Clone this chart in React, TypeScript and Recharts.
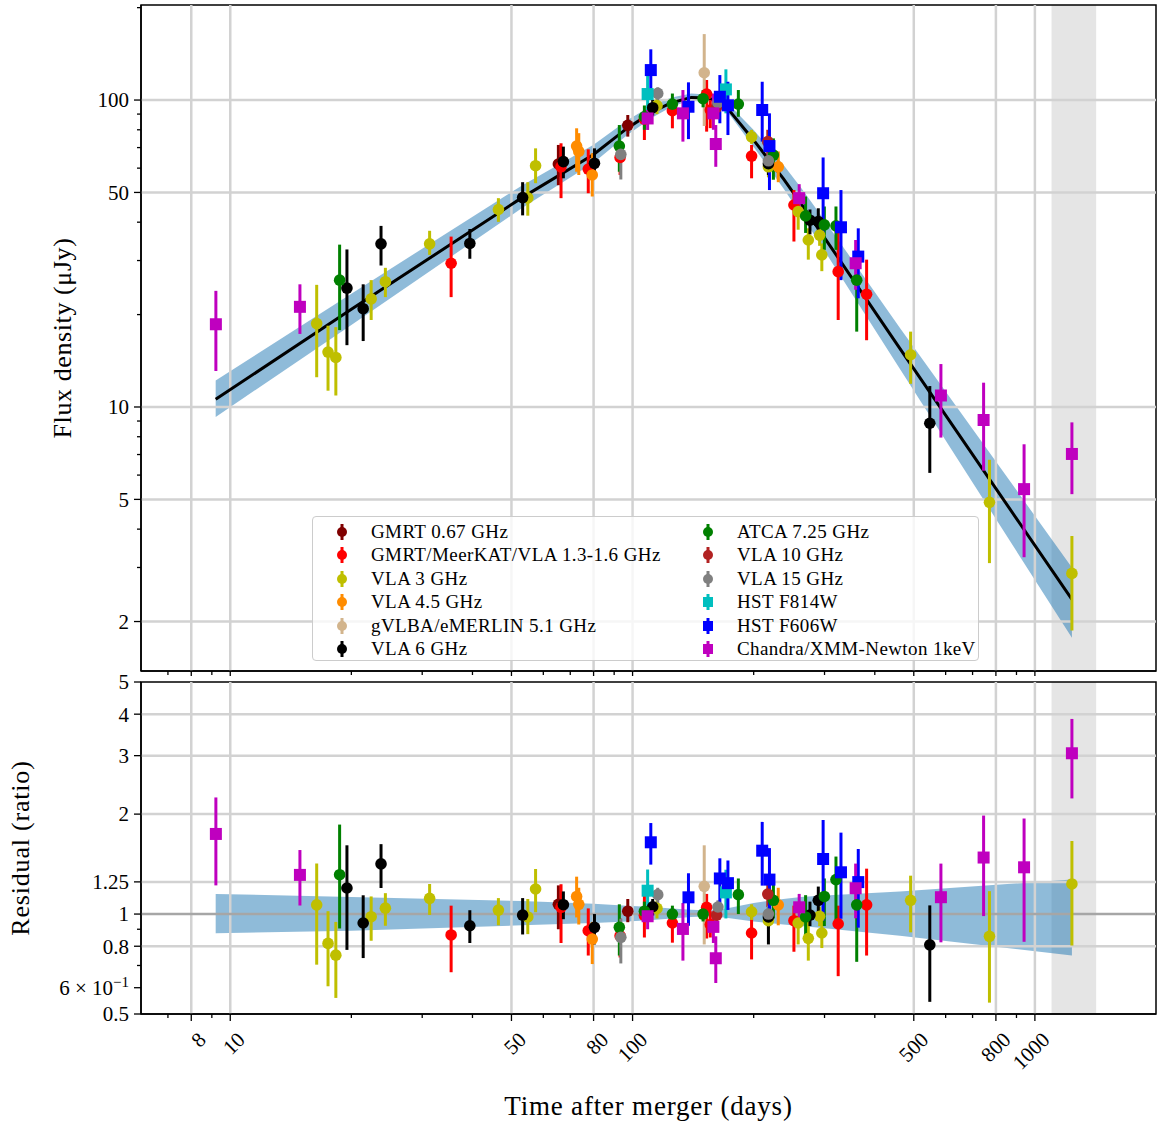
import React from 'react';
import {
  ComposedChart,
  Scatter,
  ErrorBar,
  Line,
  Area,
  XAxis,
  YAxis,
  ReferenceLine,
  ReferenceArea,
} from 'recharts';

// each row: [days, flux, flux low, flux high, ratio, ratio low, ratio high]
type Row = number[];

const gmrt067: Row[] = [
  [65.4, 61.9, 52.8, 71.4, 1.07, 0.9, 1.22],
  [97.3, 82.7, 76.0, 89.4, 1.02, 0.945, 1.11],
];
const lband: Row[] = [
  [35.4, 29.4, 22.8, 35.9, 0.865, 0.668, 1.06],
  [66.4, 60.6, 47.9, 72.3, 1.048, 0.818, 1.23],
  [77.6, 59.6, 49.7, 69.1, 0.891, 0.75, 1.04],
  [93.1, 65, 57, 72, 0.86, 0.74, 0.97],
  [107, 86.7, 74.1, 92.8, 0.99, 0.85, 1.14],
  [125.6, 92.3, 80.9, 100, 0.94, 0.82, 1.025],
  [152.8, 104.6, 78.9, 116.2, 1.048, 0.844, 1.15],
  [156, 92.8, 81, 100, 0.93, 0.85, 1.02],
  [197.6, 65.7, 55.6, 71.4, 0.877, 0.73, 0.99],
  [251.8, 45.5, 34.6, 50.9, 0.955, 0.77, 1.06],
  [324.4, 27.6, 19.2, 38.7, 0.935, 0.65, 1.06],
  [381.7, 23.3, 16.5, 30.2, 1.066, 0.75, 1.37],
];
const vla3: Row[] = [
  [16.4, 18.7, 12.5, 25.0, 1.066, 0.704, 1.42],
  [17.5, 15.1, 11.3, 18.4, 0.816, 0.606, 1.02],
  [18.3, 14.5, 10.9, 18.2, 0.752, 0.559, 0.947],
  [22.4, 22.5, 19.2, 25.9, 0.982, 0.831, 1.13],
  [24.3, 25.6, 22.8, 28.4, 1.042, 0.922, 1.156],
  [31.3, 34.0, 31.3, 37.5, 1.115, 0.994, 1.232],
  [46.4, 44.0, 40.1, 47.9, 1.028, 0.925, 1.117],
  [54.9, 48, 42, 54, 0.98, 0.87, 1.11],
  [57.4, 61.1, 53.6, 69.6, 1.19, 1.013, 1.367],
  [115, 96, 90, 103, 1.04, 0.97, 1.1],
  [197.6, 75.9, 72, 80, 1.016, 0.96, 1.07],
  [217.6, 60.6, 56, 66, 0.955, 0.9, 1.01],
  [258, 43.3, 37.8, 47.3, 0.94, 0.81, 0.99],
  [273.4, 35.0, 30.2, 38.2, 0.845, 0.724, 0.947],
  [291.7, 36.3, 33.5, 39.5, 0.985, 0.92, 1.05],
  [295.4, 31.3, 27.7, 34.1, 0.877, 0.79, 0.97],
  [491, 14.8, 11.9, 17.6, 1.1, 0.881, 1.305],
  [771, 4.89, 3.1, 6.73, 0.857, 0.541, 1.172],
  [1236, 2.87, 1.87, 3.8, 1.232, 0.804, 1.66],
];
const vla45: Row[] = [
  [72.6, 70.8, 58.4, 80.9, 1.13, 0.977, 1.296],
  [73.5, 68, 57, 78, 1.07, 0.93, 1.2],
  [79.4, 57.0, 48.5, 67.1, 0.841, 0.707, 0.947],
  [230.2, 60.6, 54, 68, 1.066, 0.925, 1.2],
];
const vlbi51: Row[] = [[150.7, 122.7, 82.3, 164, 1.212, 0.81, 1.611]];
const vla6: Row[] = [
  [19.5, 24.4, 15.9, 32.6, 1.198, 0.78, 1.611],
  [21.4, 20.9, 16.4, 25.1, 0.94, 0.737, 1.139],
  [23.7, 34.0, 28.9, 38.9, 1.416, 1.198, 1.624],
  [39.4, 34.1, 30.4, 38.0, 0.922, 0.818, 1.027],
  [53.3, 48.1, 42.1, 54.0, 0.993, 0.868, 1.117],
  [67.3, 63.0, 55.6, 70.5, 1.067, 0.965, 1.17],
  [80.4, 62.2, 56.3, 69.6, 0.912, 0.81, 1.0],
  [112.2, 94.4, 89, 100, 1.052, 0.99, 1.11],
  [217.6, 62, 57, 67, 0.98, 0.81, 1.05],
  [276, 40.6, 36.5, 44, 0.993, 0.92, 1.09],
  [289.5, 40.2, 36.9, 44.4, 1.1, 1.0, 1.21],
  [548, 8.85, 6.1, 11.7, 0.808, 0.544, 1.062],
];
const atca: Row[] = [
  [18.7, 25.9, 17.8, 33.8, 1.314, 0.905, 1.86],
  [92.7, 70.8, 58.4, 82.9, 0.912, 0.75, 1.07],
  [107, 88.2, 80, 96, 1.02, 0.95, 1.09],
  [125.6, 97.0, 89.4, 105, 1.0, 0.95, 1.06],
  [149.7, 101, 94.7, 107.8, 1.0, 0.95, 1.05],
  [183.2, 97.0, 88.2, 107.8, 1.144, 1.0, 1.28],
  [223.9, 66.2, 55, 75, 1.1, 0.97, 1.24],
  [269.2, 41.9, 36.9, 48.5, 0.98, 0.85, 1.14],
  [299.7, 39.2, 32.5, 45, 1.13, 0.92, 1.28],
  [320.3, 38.9, 32.5, 45, 1.27, 0.92, 1.49],
  [360.7, 25.9, 17.6, 30.9, 1.066, 0.718, 1.138],
];
const vla10: Row[] = [
  [161.8, 94.7, 88, 102, 0.993, 0.93, 1.06],
  [216.8, 73.2, 66, 80, 1.149, 1.05, 1.25],
];
const vla15: Row[] = [
  [93.5, 66.5, 55.1, 70.5, 0.851, 0.71, 0.968],
  [115.5, 105.1, 99, 110, 1.144, 1.08, 1.2],
  [163, 98, 93, 103, 1.05, 1.0, 1.1],
  [217.6, 63.4, 60, 67, 1.0, 0.95, 1.06],
];
const f814w: Row[] = [
  [109, 104.6, 88, 120.6, 1.176, 0.968, 1.362],
  [170.6, 108.3, 90.5, 125.9, 1.162, 0.97, 1.36],
];
const f606w: Row[] = [
  [111, 125.2, 107.8, 146.3, 1.645, 1.409, 1.88],
  [137.7, 95.1, 74.6, 114.2, 1.123, 0.922, 1.327],
  [164.8, 102.5, 84, 120.6, 1.28, 1.013, 1.472],
  [172.6, 96.1, 76.9, 114.7, 1.239, 1.029, 1.45],
  [210, 92.8, 73.2, 114.7, 1.552, 1.218, 1.895],
  [218.9, 70.8, 50.9, 90.5, 1.27, 0.92, 1.58],
  [297.6, 49.7, 36.6, 65, 1.465, 0.955, 1.92],
  [329.6, 38.5, 25.9, 50.9, 1.336, 0.968, 1.759],
  [363.9, 30.9, 22.6, 38.2, 1.248, 0.91, 1.57],
];
const xray: Row[] = [
  [9.21, 18.6, 13.1, 23.9, 1.743, 1.22, 2.245],
  [14.9, 21.2, 17.3, 25.1, 1.312, 1.061, 1.559],
  [109, 87.1, 79.9, 92.8, 0.985, 0.9, 1.05],
  [133.4, 90.5, 73.2, 107.8, 0.902, 0.724, 1.08],
  [158.8, 90.5, 80, 105, 0.915, 0.818, 1.0],
  [161, 71.9, 60.6, 82.9, 0.736, 0.62, 0.857],
  [259.5, 47.9, 43.8, 53.2, 1.048, 0.95, 1.15],
  [358.5, 29.4, 24.1, 35.0, 1.196, 0.971, 1.419],
  [584, 10.9, 7.95, 13.8, 1.124, 0.822, 1.419],
  [745.6, 9.07, 6.2, 12.0, 1.48, 0.986, 1.98],
  [940, 5.4, 3.24, 7.56, 1.383, 0.825, 1.94],
  [1236, 7.03, 5.2, 8.91, 3.05, 2.23, 3.87],
];

// best-fit light curve and its band
const modelDays = [9.2, 20, 53, 80, 97, 112, 125, 140, 155, 171, 200, 237, 262, 292, 462, 1236];
const modelFlux = [10.6, 20.8, 48, 66.5, 81, 91.5, 98, 102, 101.5, 95, 74, 55.5, 46.1, 37.5, 15.5, 2.36];
const modelLow = [9.28, 18.5, 44.4, 62.5, 77, 87.8, 95.1, 100, 100, 92.6, 70.3, 51.6, 42.4, 34.1, 13.3, 1.77];
const modelHigh = [12.19, 23.4, 52.6, 71.5, 85.9, 96.1, 101.9, 105.1, 104, 98.8, 79.9, 61.6, 51.9, 42.6, 18.1, 3.0];
const ratioLow = [0.875, 0.89, 0.925, 0.94, 0.95, 0.96, 0.97, 0.98, 0.985, 0.975, 0.95, 0.93, 0.92, 0.91, 0.86, 0.75];
const ratioHigh = [1.15, 1.125, 1.095, 1.075, 1.06, 1.05, 1.04, 1.03, 1.025, 1.04, 1.08, 1.11, 1.125, 1.135, 1.17, 1.27];

const DAY_LABELS = [8, 10, 50, 80, 100, 500, 800, 1000];
const DAY_MINOR = [7, 9, 20, 30, 40, 60, 70, 90, 200, 300, 400, 600, 700, 900];
const FLUX_LABELS = [2, 5, 10, 50, 100];
const FLUX_MINOR = [3, 4, 6, 7, 8, 9, 20, 30, 40, 60, 70, 80, 90, 200];
const RATIO_LABELS = [0.5, 0.6, 0.8, 1, 1.25, 2, 3, 4, 5];
const RATIO_MINOR = [0.7, 0.9];
const RATIO_GRID = [0.8, 1.25, 2, 3, 4];
const SHADE = [1100, 1420];

const DAY_DOMAIN = [6, 2000];
const FLUX_DOMAIN = [1.38, 204];
const RATIO_DOMAIN = [0.5, 5];

const SERIF = '"Liberation Serif", "DejaVu Serif", serif';
const GRID = '#d2d2d2';

const series = [
  { name: 'GMRT 0.67 GHz', color: '#800000', square: false, rows: gmrt067 },
  { name: 'GMRT/MeerKAT/VLA 1.3-1.6 GHz', color: '#ff0000', square: false, rows: lband },
  { name: 'VLA 3 GHz', color: '#bfbf00', square: false, rows: vla3 },
  { name: 'VLA 4.5 GHz', color: '#ff8c00', square: false, rows: vla45 },
  { name: 'gVLBA/eMERLIN 5.1 GHz', color: '#d2b48c', square: false, rows: vlbi51 },
  { name: 'VLA 6 GHz', color: '#000000', square: false, rows: vla6 },
  { name: 'ATCA 7.25 GHz', color: '#008000', square: false, rows: atca },
  { name: 'VLA 10 GHz', color: '#b22222', square: false, rows: vla10 },
  { name: 'VLA 15 GHz', color: '#808080', square: false, rows: vla15 },
  { name: 'HST F814W', color: '#00bfbf', square: true, rows: f814w },
  { name: 'HST F606W', color: '#0000ff', square: true, rows: f606w },
  { name: 'Chandra/XMM-Newton 1keV', color: '#bf00bf', square: true, rows: xray },
];

const topModel = modelDays.map((t, i) => ({ t, f: modelFlux[i], band: [modelLow[i], modelHigh[i]] }));
const bottomModel = modelDays.map((t, i) => ({ t, band: [ratioLow[i], ratioHigh[i]] }));

const marker = (color: string, square: boolean) => (p: any) =>
  square ? (
    <rect x={p.cx - 6} y={p.cy - 6} width={12} height={12} fill={color} />
  ) : (
    <circle cx={p.cx} cy={p.cy} r={5.8} fill={color} />
  );

function DayTick(props: any) {
  const { x, y, payload, showLabel } = props;
  const v = payload.value as number;
  const major = DAY_LABELS.includes(v);
  return (
    <g>
      <line x1={x} x2={x} y1={y} y2={y + (major ? 7 : 4)} stroke="#000" strokeWidth={1.3} />
      {showLabel && major && (
        <text
          x={x + 16}
          y={y + 27}
          textAnchor="end"
          transform={`rotate(-45 ${x + 16} ${y + 27})`}
          fontSize={21}
          fontFamily={SERIF}
          fill="#000"
        >
          {v}
        </text>
      )}
    </g>
  );
}

function ValueTick(props: any) {
  const { x, y, payload, labels } = props;
  const v = payload.value as number;
  const major = labels.includes(v);
  return (
    <g>
      <line x1={x - (major ? 7 : 4)} x2={x} y1={y} y2={y} stroke="#000" strokeWidth={1.3} />
      {major && (
        <text x={x - 12} y={y} dy="0.35em" textAnchor="end" fontSize={21} fontFamily={SERIF} fill="#000">
          {v === 0.6 ? (
            <>
              6 × 10<tspan dy={-8} fontSize={15}>−1</tspan>
            </>
          ) : (
            v
          )}
        </text>
      )}
    </g>
  );
}

function LegendMark({ color, square }: { color: string; square: boolean }) {
  return (
    <svg width={14} height={22} style={{ display: 'block' }}>
      <line x1={7} x2={7} y1={3} y2={19} stroke={color} strokeWidth={3} />
      {square ? <rect x={2} y={6} width={10} height={10} fill={color} /> : <circle cx={7} cy={11} r={5} fill={color} />}
    </svg>
  );
}

function LegendBox() {
  const cols = [series.slice(0, 6), series.slice(6)];
  return (
    <div
      style={{
        position: 'absolute',
        left: 312,
        top: 516,
        width: 667,
        height: 145,
        boxSizing: 'border-box',
        border: '1.5px solid #cccccc',
        borderRadius: 4,
        background: 'rgba(255,255,255,0.8)',
        fontFamily: SERIF,
        fontSize: 19,
        letterSpacing: 0.4,
      }}
    >
      {cols.map((col, ci) => (
        <div key={ci} style={{ position: 'absolute', left: ci === 0 ? 22 : 388, top: 3 }}>
          {col.map((s) => (
            <div key={s.name} style={{ display: 'flex', alignItems: 'center', height: 23.5 }}>
              <LegendMark color={s.color} square={s.square} />
              <span style={{ marginLeft: 22, whiteSpace: 'nowrap' }}>{s.name}</span>
            </div>
          ))}
        </div>
      ))}
    </div>
  );
}

export default function App() {
  const allDays = [...DAY_LABELS, ...DAY_MINOR].sort((a, b) => a - b);
  const fluxTicks = [...FLUX_LABELS, ...FLUX_MINOR].sort((a, b) => a - b);
  const ratioTicks = [...RATIO_LABELS, ...RATIO_MINOR].sort((a, b) => a - b);

  return (
    <div style={{ position: 'absolute', left: 0, top: 0, width: 1157, height: 1125, background: '#fff' }}>
      <div style={{ position: 'absolute', left: 0, top: 0 }}>
        <ComposedChart width={1157} height={676} data={topModel} margin={{ top: 5, right: 1, left: 0, bottom: 0 }}>
          <XAxis
            dataKey="t"
            type="number"
            scale="log"
            domain={DAY_DOMAIN}
            allowDataOverflow
            ticks={allDays}
            interval={0}
            height={5}
            tickSize={0}
            tickMargin={0}
            tick={<DayTick showLabel={false} />}
            axisLine={{ stroke: '#000', strokeWidth: 1.5 }}
          />
          <YAxis
            type="number"
            scale="log"
            domain={FLUX_DOMAIN}
            allowDataOverflow
            ticks={fluxTicks}
            interval={0}
            width={141}
            tickSize={0}
            tickMargin={0}
            tick={<ValueTick labels={FLUX_LABELS} />}
            axisLine={{ stroke: '#000', strokeWidth: 1.5 }}
            label={{
              value: 'Flux density (μJy)',
              angle: -90,
              position: 'insideLeft',
              offset: 62,
              style: { textAnchor: 'middle', fontFamily: SERIF, fontSize: 26, letterSpacing: 0.6, fill: '#000' },
            }}
          />
          <ReferenceArea x1={SHADE[0]} x2={SHADE[1]} fill="#e5e5e5" fillOpacity={1} stroke="none" />
          {DAY_LABELS.map((d) => (
            <ReferenceLine key={'vx' + d} x={d} stroke={GRID} strokeWidth={2.5} />
          ))}
          {FLUX_LABELS.map((v) => (
            <ReferenceLine key={'hy' + v} y={v} stroke={GRID} strokeWidth={2.5} />
          ))}
          <Area
            dataKey="band"
            stroke="none"
            fill="#1f77b4"
            fillOpacity={0.5}
            isAnimationActive={false}
            activeDot={false}
          />
          <Line dataKey="f" stroke="#000" strokeWidth={3} dot={false} activeDot={false} isAnimationActive={false} />
          {series.map((s) => (
            <Scatter
              key={s.name}
              data={s.rows.map((r) => ({ t: r[0], f: r[1], fe: [r[1] - r[2], r[3] - r[1]] }))}
              dataKey="f"
              shape={marker(s.color, s.square)}
              isAnimationActive={false}
            >
              <ErrorBar dataKey="fe" direction="y" width={0} stroke={s.color} strokeWidth={3} isAnimationActive={false} />
            </Scatter>
          ))}
          <ReferenceArea
            x1={DAY_DOMAIN[0]}
            x2={DAY_DOMAIN[1]}
            y1={FLUX_DOMAIN[0]}
            y2={FLUX_DOMAIN[1]}
            fill="none"
            fillOpacity={0}
            stroke="#000"
            strokeWidth={1.5}
            ifOverflow="visible"
          />
        </ComposedChart>
        <LegendBox />
      </div>

      <div style={{ position: 'absolute', left: 0, top: 657 }}>
        <ComposedChart width={1157} height={468} data={bottomModel} margin={{ top: 25, right: 1, left: 0, bottom: 0 }}>
          <XAxis
            dataKey="t"
            type="number"
            scale="log"
            domain={DAY_DOMAIN}
            allowDataOverflow
            ticks={allDays}
            interval={0}
            height={111}
            tickSize={0}
            tickMargin={0}
            tick={<DayTick showLabel />}
            axisLine={{ stroke: '#000', strokeWidth: 1.5 }}
            label={{
              value: 'Time after merger (days)',
              position: 'insideBottom',
              offset: 10,
              style: { fontFamily: SERIF, fontSize: 27, letterSpacing: 0.8, fill: '#000' },
            }}
          />
          <YAxis
            type="number"
            scale="log"
            domain={RATIO_DOMAIN}
            allowDataOverflow
            ticks={ratioTicks}
            interval={0}
            width={141}
            tickSize={0}
            tickMargin={0}
            tick={<ValueTick labels={RATIO_LABELS} />}
            axisLine={{ stroke: '#000', strokeWidth: 1.5 }}
            label={{
              value: 'Residual (ratio)',
              angle: -90,
              position: 'insideLeft',
              offset: 20,
              style: { textAnchor: 'middle', fontFamily: SERIF, fontSize: 26, letterSpacing: 0.8, fill: '#000' },
            }}
          />
          <ReferenceArea x1={SHADE[0]} x2={SHADE[1]} fill="#e5e5e5" fillOpacity={1} stroke="none" />
          {DAY_LABELS.map((d) => (
            <ReferenceLine key={'vx' + d} x={d} stroke={GRID} strokeWidth={2.5} />
          ))}
          {RATIO_GRID.map((v) => (
            <ReferenceLine key={'hy' + v} y={v} stroke={GRID} strokeWidth={2.5} />
          ))}
          <Area
            dataKey="band"
            stroke="none"
            fill="#1f77b4"
            fillOpacity={0.5}
            isAnimationActive={false}
            activeDot={false}
          />
          <ReferenceLine y={1} stroke="#a6a6a6" strokeWidth={2.5} />
          {series.map((s) => (
            <Scatter
              key={s.name}
              data={s.rows.map((r) => ({ t: r[0], f: r[4], fe: [r[4] - r[5], r[6] - r[4]] }))}
              dataKey="f"
              shape={marker(s.color, s.square)}
              isAnimationActive={false}
            >
              <ErrorBar dataKey="fe" direction="y" width={0} stroke={s.color} strokeWidth={3} isAnimationActive={false} />
            </Scatter>
          ))}
          <ReferenceArea
            x1={DAY_DOMAIN[0]}
            x2={DAY_DOMAIN[1]}
            y1={RATIO_DOMAIN[0]}
            y2={RATIO_DOMAIN[1]}
            fill="none"
            fillOpacity={0}
            stroke="#000"
            strokeWidth={1.5}
            ifOverflow="visible"
          />
        </ComposedChart>
      </div>
    </div>
  );
}
